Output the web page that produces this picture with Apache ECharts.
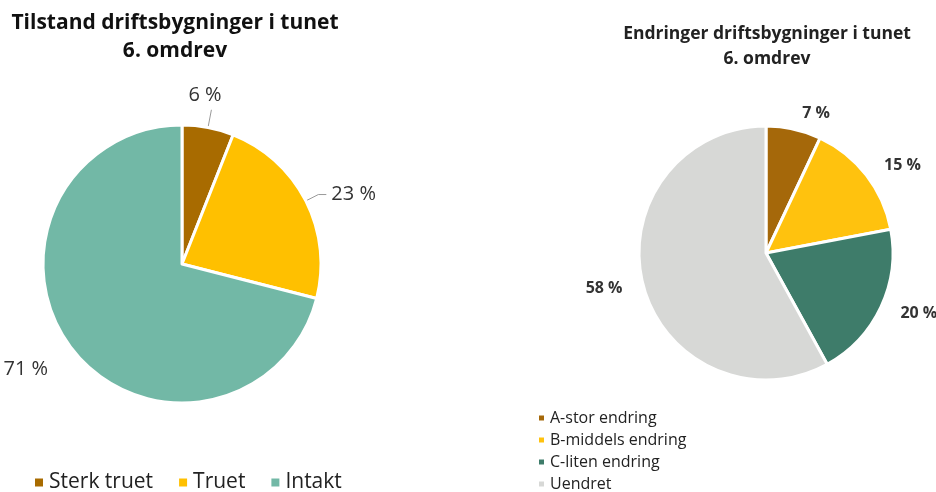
<!DOCTYPE html>
<html>
<head>
<meta charset="utf-8">
<script src="https://cdn.jsdelivr.net/npm/echarts@6/dist/echarts.min.js"></script>
<style>
  html, body { margin: 0; padding: 0; background: #fff; }
  #chart { width: 936px; height: 492px; }
</style>
</head>
<body>
<div id="chart"></div>
<script>
// left pie: tilstand
var tilstandNames = ["Sterk truet", "Truet", "Intakt"];
var tilstandValues = [6, 23, 71];
var tilstandColors = ["#A86B00", "#FFC000", "#72B8A6"];

// right pie: endringer
var endringNames = ["A-stor endring", "B-middels endring", "C-liten endring", "Uendret"];
var endringValues = [7, 15, 20, 58];
var endringColors = ["#A5680A", "#FFC20E", "#3E7C6A", "#D7D8D6"];

var font = "'Open Sans', 'Noto Sans', sans-serif";

var toData = (names, values, colors) =>
  names.map((n, i) => ({ name: n, value: values[i], itemStyle: { color: colors[i] } }));

var leftData = toData(tilstandNames, tilstandValues, tilstandColors);
leftData[0].labelLine = { length: 18, length2: 0 };
leftData[2].labelLine = { show: false };

var myChart = echarts.init(document.getElementById("chart"));
myChart.setOption({
  animation: false,
  title: [
    {
      text: "Tilstand driftsbygninger i tunet\n6. omdrev",
      left: 170,
      top: 4,
      textAlign: "center",
      textStyle: { fontFamily: font, fontSize: 21, fontWeight: "bold", color: "#111", lineHeight: 28 },
    },
    {
      text: "Endringer driftsbygninger i tunet\n6. omdrev",
      left: 762,
      top: 17,
      textAlign: "center",
      textStyle: { fontFamily: font, fontSize: 17.5, fontWeight: "bold", color: "#222", lineHeight: 25 },
    },
  ],
  legend: [
    {
      data: tilstandNames,
      left: 28,
      top: 467,
      icon: "rect",
      itemWidth: 10,
      itemHeight: 10,
      itemGap: 24,
      textStyle: { fontFamily: font, fontSize: 21, color: "#222" },
    },
    {
      data: endringNames,
      orient: "vertical",
      left: 537,
      top: 410,
      height: 120,
      padding: 0,
      icon: "rect",
      itemWidth: 7,
      itemHeight: 7,
      itemGap: 6,
      textStyle: { fontFamily: font, fontSize: 16, color: "#222" },
    },
  ],
  series: [
    {
      //tilstand
      type: "pie",
      center: [182, 264],
      radius: 139,
      startAngle: 90,
      data: leftData,
      itemStyle: { borderColor: "#fff", borderWidth: 3 },
      label: {
        show: true,
        formatter: "{c} %",
        fontFamily: font,
        fontSize: 20,
        color: "#333",
        overflow: "none",
      },
      labelLine: { show: true, length: 14, length2: 8, lineStyle: { color: "#999" } },
      labelLayout: function (params) {
        // 6 % sits above its leader line, 71 % a bit lower
        if (params.dataIndex === 0) return { dx: -28, dy: -14 };
        if (params.dataIndex === 2) return { dy: 12 };
      },
      emphasis: { disabled: true },
    },
    {
      //endringer
      type: "pie",
      center: [766, 253],
      radius: 127,
      startAngle: 90,
      data: toData(endringNames, endringValues, endringColors),
      itemStyle: { borderColor: "#fff", borderWidth: 3 },
      label: {
        show: true,
        formatter: "{c} %",
        fontFamily: font,
        fontSize: 16,
        fontWeight: "bold",
        color: "#333",
        overflow: "none",
      },
      labelLine: { show: false, length: 16, length2: 0 },
      emphasis: { disabled: true },
    },
  ],
});
</script>
</body>
</html>
